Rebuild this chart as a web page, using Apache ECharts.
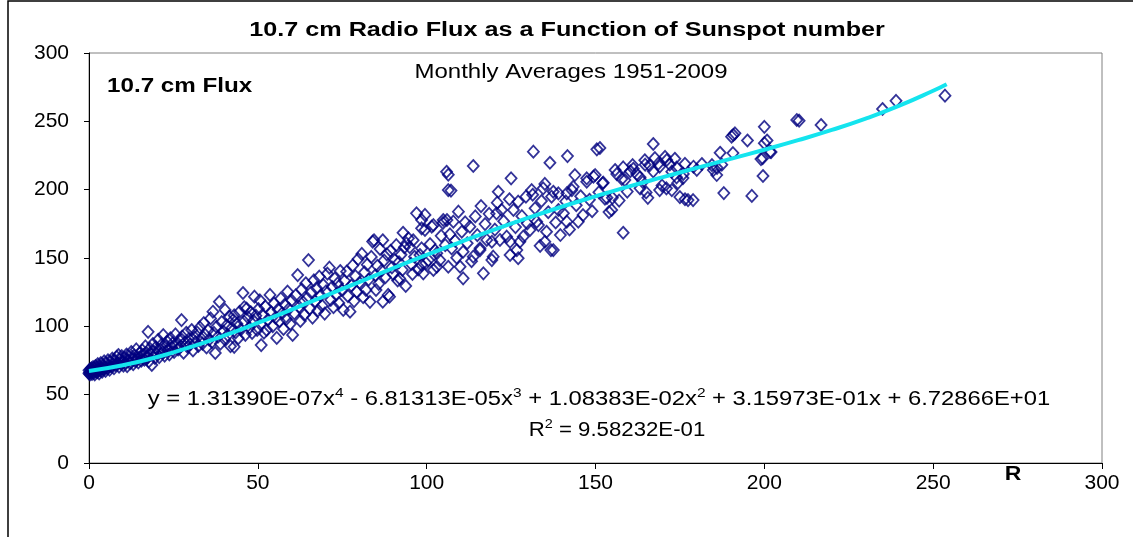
<!DOCTYPE html>
<html>
<head>
<meta charset="utf-8">
<script src="https://cdn.jsdelivr.net/npm/echarts@6/dist/echarts.min.js"></script>
<style>
html,body{margin:0;padding:0;background:#fff;}
#chart{width:1133px;height:537px;}
</style>
</head>
<body>
<div id="chart"></div>
<script>
// Monthly averages: [sunspot number R, 10.7 cm flux]
var pts0to10 = [[0,65.5],[0,67.8],[0.1,66.2],[0.3,64.8],[0.4,68.5],[0.6,66.9],[0.7,69.3],[0.9,65.2],[1.1,67.4],[1.2,70.2],[1.4,66.1],[1.6,68.8],[1.7,64.9],[1.9,71],[2.1,67.2],[2.3,69.6],[2.4,66.4],[2.6,72.3],[2.8,68.1],[3,65.6],[3.1,70.4],[3.3,67.9],[3.5,73.1],[3.7,69],[3.9,66.8],[4.1,71.5],[4.3,68.6],[4.5,74.4],[4.7,70],[4.9,67.3],[5.1,72.6],[5.4,69.4],[5.6,75.2],[5.9,71.1],[6.1,68.2],[6.4,73.8],[6.6,70.6],[6.9,76.4],[7.1,72.2],[7.4,69.3],[7.7,74.9],[7.9,71.7],[8.2,77.6],[8.4,73.3],[8.7,79],[8.9,70.4],[9.2,75.6],[9.5,72.8],[9.7,78.2],[9.9,74.1]];
var pts10to30 = [[10.2,71.2],[10.5,76.8],[10.8,73.5],[11.1,79.4],[11.3,70.8],[11.6,75.1],[11.9,77.9],[12.2,73],[12.5,81.2],[12.8,75.9],[13.1,72.4],[13.4,78.6],[13.7,74.7],[14,83.1],[14.3,76.3],[14.6,73.6],[14.9,80.2],[15.2,77.4],[15.5,74.9],[15.8,82.4],[16.1,78.9],[16.4,75.6],[16.7,85.3],[17,80.6],[17.5,96],[17.3,77.2],[17.7,74.3],[18,83.7],[18.3,79.4],[18.6,71.7],[18.9,87.1],[19.2,81.5],[19.5,76.8],[19.8,84.6],[20.1,79.8],[20.5,90.2],[20.8,77.5],[21.2,83],[21.5,86.7],[21.9,80.9],[22,93.6],[22.4,78.6],[22.7,85.2],[23.1,88.9],[23.4,82.4],[23.8,79.5],[24.1,91.3],[24.5,84.7],[24.8,87.6],[25.2,81.3],[25.6,94.1],[26,86.2],[26.4,83.1],[26.8,89.8],[27.4,104.6],[27.2,85.4],[27.6,92.5],[28,80.7],[28.4,88.2],[28.8,95.3],[29.2,84.9],[29.6,90.6],[30,86.8]];
var pts30to50 = [[30.4,97.3],[30.8,82.3],[31.2,92.1],[31.6,88.4],[32,95.6],[32.4,85.7],[32.8,99.2],[33.2,91],[33.6,87.4],[34,102.4],[34.4,93.8],[34.8,84.6],[35.2,97.1],[35.6,90.3],[36,105.8],[36.4,88.5],[36.7,110.7],[37,95.2],[37.4,80.5],[37.8,99.6],[38.2,92.4],[38.6,118],[38.9,87.3],[39.3,103.1],[39.7,96.4],[40.1,90.8],[40.3,112],[40.7,100.5],[41.1,93.6],[41.5,107.2],[41.9,85.4],[42.3,98.7],[42.7,104.6],[43,108],[43,85],[43.4,95.5],[43.8,101.9],[44.2,91.3],[44.6,110.6],[45,97.8],[45.6,124.4],[45.9,103.4],[46,114],[46.3,93.8],[46.7,113],[47.1,106.5],[47.5,99.1],[47.9,110.3],[48.3,95.2],[48.7,104.1],[49,121.7],[49.4,107.8],[49.8,97.4],[50.2,112.6]];
var pts50to75 = [[50.6,119],[50.8,101.6],[51,86.3],[51.4,108.4],[51.8,95.3],[52.2,114.5],[52.6,97.3],[53,104.9],[53.6,123],[54,110.1],[54.4,100.2],[54.8,116.7],[55.2,106.3],[55.6,91.5],[56,112.4],[56.4,103.8],[56.8,120.3],[57.2,109.6],[57.6,98.1],[58,116],[58.4,105.2],[58.8,125.4],[59.2,112.8],[59.6,101.7],[60,118.9],[60.3,93.7],[60.8,109.5],[61.2,122.6],[61.8,137.5],[62.2,114.2],[62.6,103.9],[63,127.1],[63.4,117.6],[63.8,108.3],[64.2,131.5],[64.6,120.7],[65,148.5],[65.4,112.9],[65.8,124.8],[66.2,106.4],[66.6,133.6],[67,118.2],[67.4,127.9],[67.8,111.6],[68.2,136.4],[68.6,122.5],[69,115.1],[69.4,130.2],[69.8,109.3],[70.2,125.7],[70.6,138.6],[71.2,142.9],[71.6,119.4],[72,128.8],[72.4,114],[72.8,134.9],[73.2,123.2],[73.6,131.3],[74,117.1],[74.4,140.5],[74.8,126.6]];
var pts75to100 = [[75.3,112],[75.7,133.2],[76.3,140],[76.7,122.1],[77.3,110.7],[77.7,129.8],[78.1,144.6],[78.5,118.5],[78.9,136.7],[79.3,125.4],[79.7,149.2],[80.1,131.9],[80.8,153],[81.2,121.3],[81.6,139.5],[82,126.6],[82.4,145.1],[82.8,134.2],[83.2,117.9],[83.6,150.8],[84,162],[84.4,163],[84.8,137.4],[85,126.6],[85.4,144.3],[85.8,131.1],[86.2,156.6],[86.6,140.7],[87,118],[87,163],[87.4,148.2],[87.8,135.9],[88.2,152.7],[88.6,123],[89,121.7],[89.3,155.3],[89.7,143.1],[90.1,138.2],[90.6,148.5],[91,159.4],[91.4,133.6],[91.8,146.9],[92,135],[92.4,152.4],[92.8,141.3],[93,168.5],[93.4,157.8],[93.8,129.5],[94,160.7],[94.6,164.4],[95,158],[95.4,145.7],[95.8,138.3],[96,163],[96.4,150.9],[97,182.7],[97.5,141.6],[98,152.2],[98.5,157],[98.5,144.9],[98.5,171.7],[98.5,177.8],[99,138.8],[99.5,181.5],[99.5,170.5],[99.8,146.3]];
var pts100to130 = [[100.5,148.5],[101.5,173],[101,160.2],[102,141.2],[102,174.1],[102.5,155.6],[103,153.4],[103,143.6],[103.9,148.5],[104.3,166.2],[104.8,175.6],[104.9,177.8],[105.5,159.4],[105.9,213.1],[106,177.8],[106.4,199.7],[106.4,143.6],[106.4,210.9],[106.9,167.3],[107.2,199.3],[107.4,157.1],[107.9,176.6],[108.4,162.6],[108.9,150.2],[109.4,183.9],[109.9,143.6],[110.4,169.2],[110.8,135.1],[110.8,154.6],[111.4,176.1],[112,160.8],[112.8,172.9],[113.3,147.6],[113.8,217.3],[113.8,151],[114.4,180.4],[115,166.7],[115.8,155.8],[115.8,157.1],[116.1,188],[116.8,138.8],[117.3,174.8],[117.8,163.2],[118.5,182.3],[119.3,161.9],[119.3,148.5],[119.7,151],[120.2,170.8],[120.7,182.7],[120.9,190.5],[121.2,198.5],[121.7,163.2],[122.2,185.1],[122.8,176.9],[123.7,165.6],[124.5,193],[124.7,161.9],[124.7,152.2],[125,208.3],[125.7,185.1],[126.3,172.6],[126.7,155.8],[127.1,191.2],[127.1,149.8],[127.6,161.9],[128.2,180.6],[128.6,165.6],[129.4,194.9],[129.8,175.3]];
var pts130to160 = [[130.6,170.5],[131.1,199.7],[131.4,196.3],[131.6,227.8],[132.1,186.4],[132.6,176.6],[133.1,174.1],[133.6,158.9],[134,191.7],[134.5,201],[135,161.9],[135,204.2],[135.5,169.2],[136,183.5],[136.5,219.7],[136.8,155.8],[137,194.9],[137.5,198.5],[137.5,155.8],[138.2,176],[139,185.1],[139,197.3],[139.6,166.8],[140.5,182.7],[141.2,191.4],[141.5,176.6],[141.5,197.3],[141.7,224.6],[142.3,170.9],[143,199.7],[143.4,202.1],[143.9,210.7],[144.3,188.6],[144.9,176.6],[145.6,195.2],[146.3,181.4],[147.4,205.8],[147.4,208.3],[148.2,192.6],[149,184.2],[149.4,209.5],[149.9,210.7],[150.4,229.5],[151,198.1],[151.3,230.5],[152.1,204.7],[152.3,205.1],[152.8,193.4],[153.4,194],[154,183.6],[154.8,185.1],[155,194],[155.8,214.4],[156.3,211.4],[157,192],[157.8,207.8],[158.2,216.3],[158.2,168.5],[158.7,207],[159.4,198.6]];
var pts160to200 = [[160.3,213.5],[161,218],[161.2,215.3],[162.2,211.4],[163.2,209],[163.2,201],[164,205.6],[164.6,221.5],[164.7,218.3],[165,198],[165.5,194],[166,217.8],[167.1,233.4],[167.1,213.4],[167.6,223.1],[168.6,219],[169,216.9],[169,199.7],[169.7,203],[170.6,224],[171,201],[171.1,221.7],[172,218.4],[172.6,199.7],[172.6,213.2],[173.5,222.6],[174,216.1],[174,209],[174.4,205],[175,194.6],[175.9,208.5],[176,211.5],[176.5,193],[176.5,218.9],[177.4,192.4],[178.9,192.4],[179,216.8],[180,214.5],[181.5,218.8],[184.5,218],[184.9,214.3],[185.9,210.7],[186,216],[186.9,227],[187.4,218.3],[188,197.5],[190.3,238.8],[190.7,226.8],[190.8,240],[191.3,241.2],[195,236],[196.3,195.4],[199,222.4],[199.5,223],[199.6,210],[200,234],[200,246]];
var pts200to260 = [[200.8,236],[201.7,227.6],[202,227.5],[209.6,251],[210.3,250.5],[216.8,247.3],[235,259],[239,265],[253.5,268.8]];

// Polynomial trend line as drawn on the chart
var trendR    = [0,10,20,30,40,50,60,70,80,90,100,110,120,130,140,150,160,170,180,190,200,210,220,230,240,250,254];
var trendFlux = [67.3,71.5,77.4,84.8,93.2,102.5,112.3,122.3,132.4,142.5,152.3,161.7,170.8,179.4,187.5,195.1,202.4,209.2,215.9,222.5,229.2,236.2,243.7,252.0,261.5,272.4,277.2];

var xTicks = [0,50,100,150,200,250,300];
var yTicks = [0,50,100,150,200,250,300];

var chartTitle = '10.7 cm Radio Flux as a Function of Sunspot number';
var subTitle = 'Monthly Averages 1951-2009';
var yName = '10.7 cm Flux';
var xName = 'R';
var eqText = 'y = 1.31390E-07x{sup|4} - 6.81313E-05x{sup|3} + 1.08383E-02x{sup|2} + 3.15973E-01x + 6.72866E+01';
var r2Text = 'R{sup|2} = 9.58232E-01';

var scatterData = [].concat(pts0to10, pts10to30, pts30to50, pts50to75, pts75to100, pts100to130, pts130to160, pts160to200, pts200to260);
var trendData = trendR.map(function(r, i){ return [r, trendFlux[i]]; });

var FF = '"Liberation Sans", Arial, sans-serif';
var chart = echarts.init(document.getElementById('chart'), null, {renderer: 'canvas'});
var richSup = {
  sup: {fontSize: 13, fontFamily: FF, color: '#000', lineHeight: 24, verticalAlign: 'top', padding: [0,0,11,0]}
};
function txt(x, y, text, weight, align, sx, rich) {
  var st = {text: text, font: weight + ' 20px ' + FF, fontSize: 20, fontFamily: FF, fontWeight: weight, fill: '#000',
            textAlign: align, textVerticalAlign: 'middle', align: align, verticalAlign: 'middle'};
  if (rich) st.rich = rich;
  return {type: 'text', x: x, y: y, scaleX: sx, scaleY: 1, style: st, silent: true};
}
chart.setOption({
  animation: false,
  backgroundColor: '#fff',
  grid: {left: 89, top: 53, right: 31, bottom: 74, show: true, borderColor: '#808080', borderWidth: 1, backgroundColor: '#fff'},
  xAxis: {
    type: 'value', min: xTicks[0], max: xTicks[xTicks.length-1], interval: 50,
    axisLine: {show: true, onZero: false, lineStyle: {color: '#000', width: 1}},
    axisTick: {show: true, inside: false, length: 6, lineStyle: {color: '#000'}},
    axisLabel: {show: true, margin: 10, fontSize: 21, fontFamily: FF, color: '#000'},
    splitLine: {show: false}
  },
  yAxis: {
    type: 'value', min: yTicks[0], max: yTicks[yTicks.length-1], interval: 50,
    axisLine: {show: true, onZero: false, lineStyle: {color: '#000', width: 1}},
    axisTick: {show: true, inside: false, length: 5, lineStyle: {color: '#000'}},
    axisLabel: {show: true, margin: 20, fontSize: 21, fontFamily: FF, color: '#000'},
    splitLine: {show: false}
  },
  series: [
    {
      type: 'scatter', data: scatterData, symbol: 'diamond', symbolSize: [11, 12],
      itemStyle: {color: 'rgba(0,0,0,0)', borderColor: '#000080', borderWidth: 1.8},
      emphasis: {disabled: true}, z: 2
    },
    {
      type: 'line', data: trendData, showSymbol: false, smooth: true,
      lineStyle: {color: '#14E4EE', width: 4}, z: 3, emphasis: {disabled: true}
    }
  ],
  graphic: [
    {type: 'rect', shape: {x: 8, y: 1, width: 1140, height: 560}, style: {fill: 'none', stroke: '#000', lineWidth: 1.5}, silent: true},
    txt(567, 30, chartTitle, 'bold', 'center', 1.26),
    txt(571, 72, subTitle, 'normal', 'center', 1.2),
    txt(107, 86, yName, 'bold', 'left', 1.21),
    txt(1013, 474, xName, 'bold', 'center', 1.15),
    txt(599, 399, eqText, 'normal', 'center', 1.19, richSup),
    txt(617, 430, r2Text, 'normal', 'center', 1.11, richSup)
  ]
});
</script>
</body>
</html>
